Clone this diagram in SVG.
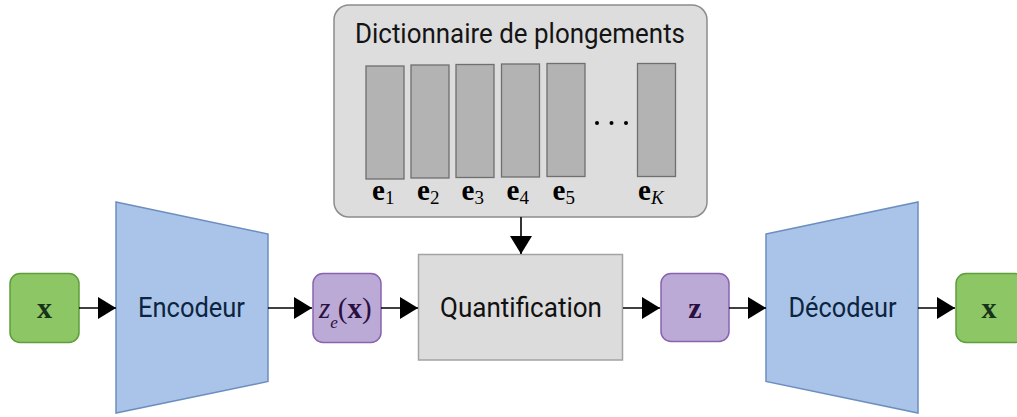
<svg xmlns="http://www.w3.org/2000/svg" width="1017" height="417" viewBox="0 0 1017 417">
<style>
.lbl{font-family:Roboto,"Liberation Sans",sans-serif;text-anchor:middle}
.math{font-family:"Liberation Serif","DejaVu Serif",serif}
.bar{fill:#b3b3b3;stroke:#6f6f6f;stroke-width:1.3}
.conn{stroke:#000;stroke-width:1.6;fill:none;marker-end:url(#arr)}
.enc{fill:#a9c4e8;stroke:#6c8ebf;stroke-width:1.5}
.green{fill:#8cc665;stroke:#5f9e3b;stroke-width:1.5}
.purple{fill:#bcaad6;stroke:#8a63b0;stroke-width:1.5}
</style>
<defs>
<marker id="arr" viewBox="0 0 18 22" refX="18" refY="11" markerWidth="18" markerHeight="22" markerUnits="userSpaceOnUse" orient="auto">
<path d="M0,0 L18,11 L0,22 Z" fill="#000"/>
</marker>
</defs>
<rect width="1017" height="417" fill="#fff"/>
<g id="dictionnaire">
<rect x="334" y="5" width="373" height="212" rx="15" fill="#dddddd" stroke="#8c8c8c" stroke-width="1.5"/>
<text class="lbl" x="520" y="43" font-size="27" fill="#141414" textLength="330" lengthAdjust="spacingAndGlyphs">Dictionnaire de plongements</text>
<rect class="bar" x="366" y="66" width="38" height="113"/>
<rect class="bar" x="411" y="65" width="38" height="113"/>
<rect class="bar" x="456" y="64.5" width="38" height="113"/>
<rect class="bar" x="501.5" y="64" width="38" height="113"/>
<rect class="bar" x="547" y="63.5" width="38" height="113"/>
<rect class="bar" x="637.5" y="63.5" width="38" height="113"/>
<circle cx="597" cy="123" r="2" fill="#000"/>
<circle cx="611.5" cy="123" r="2" fill="#000"/>
<circle cx="626" cy="123" r="2" fill="#000"/>
<g class="math" font-size="29" fill="#000">
<text x="372" y="200"><tspan font-weight="bold">e</tspan><tspan font-size="19" dy="4">1</tspan></text>
<text x="417" y="200"><tspan font-weight="bold">e</tspan><tspan font-size="19" dy="4">2</tspan></text>
<text x="461.5" y="200"><tspan font-weight="bold">e</tspan><tspan font-size="19" dy="4">3</tspan></text>
<text x="506.5" y="200"><tspan font-weight="bold">e</tspan><tspan font-size="19" dy="4">4</tspan></text>
<text x="552.5" y="200"><tspan font-weight="bold">e</tspan><tspan font-size="19" dy="4">5</tspan></text>
<text x="638" y="200"><tspan font-weight="bold">e</tspan><tspan font-size="19" dy="4" font-style="italic">K</tspan></text>
</g>
</g>
<g id="x-entree">
<rect class="green" x="10" y="273.5" width="69" height="69" rx="10"/>
<text class="math" x="44.5" y="318" font-size="30" font-weight="bold" text-anchor="middle" fill="#17331a">x</text>
</g>
<g id="encodeur">
<polygon class="enc" points="116,202 268,234 268,381.5 116,413"/>
<text class="lbl" x="191.5" y="317" font-size="28" fill="#0c2440" textLength="107" lengthAdjust="spacingAndGlyphs">Encodeur</text>
</g>
<g id="ze">
<rect class="purple" x="313" y="273.5" width="68" height="69" rx="10"/>
<text class="math" x="319" y="318" font-size="29" fill="#2a1040"><tspan font-style="italic">z</tspan><tspan font-style="italic" font-size="17" dy="10">e</tspan><tspan dy="-10">(</tspan><tspan font-weight="bold">x</tspan><tspan>)</tspan></text>
</g>
<g id="quantification">
<rect x="418.5" y="254.5" width="204" height="105.5" fill="#dcdcdc" stroke="#a3a3a3" stroke-width="1.5"/>
<text class="lbl" x="521" y="317" font-size="28" fill="#111" textLength="162" lengthAdjust="spacingAndGlyphs">Quantification</text>
</g>
<g id="z">
<rect class="purple" x="661" y="273.5" width="68" height="68" rx="10"/>
<text class="math" x="695" y="318" font-size="30" font-weight="bold" text-anchor="middle" fill="#2a1040">z</text>
</g>
<g id="decodeur">
<polygon class="enc" points="766,234 918,202 918,413 766,381.5"/>
<text class="lbl" x="842.5" y="317" font-size="28" fill="#0c2440" textLength="108" lengthAdjust="spacingAndGlyphs">Décodeur</text>
</g>
<g id="x-sortie">
<rect class="green" x="956" y="273.5" width="69" height="69" rx="10"/>
<text class="math" x="989" y="318" font-size="30" font-weight="bold" text-anchor="middle" fill="#17331a">x</text>
</g>
<g id="connecteurs">
<line class="conn" x1="79" y1="308" x2="116" y2="308"/>
<line class="conn" x1="268" y1="308" x2="312" y2="308"/>
<line class="conn" x1="381" y1="308" x2="418" y2="308"/>
<line class="conn" x1="521" y1="217" x2="521" y2="254"/>
<line class="conn" x1="623" y1="308" x2="660" y2="308"/>
<line class="conn" x1="729" y1="308" x2="766" y2="308"/>
<line class="conn" x1="918" y1="308" x2="955" y2="308"/>
</g>
</svg>
